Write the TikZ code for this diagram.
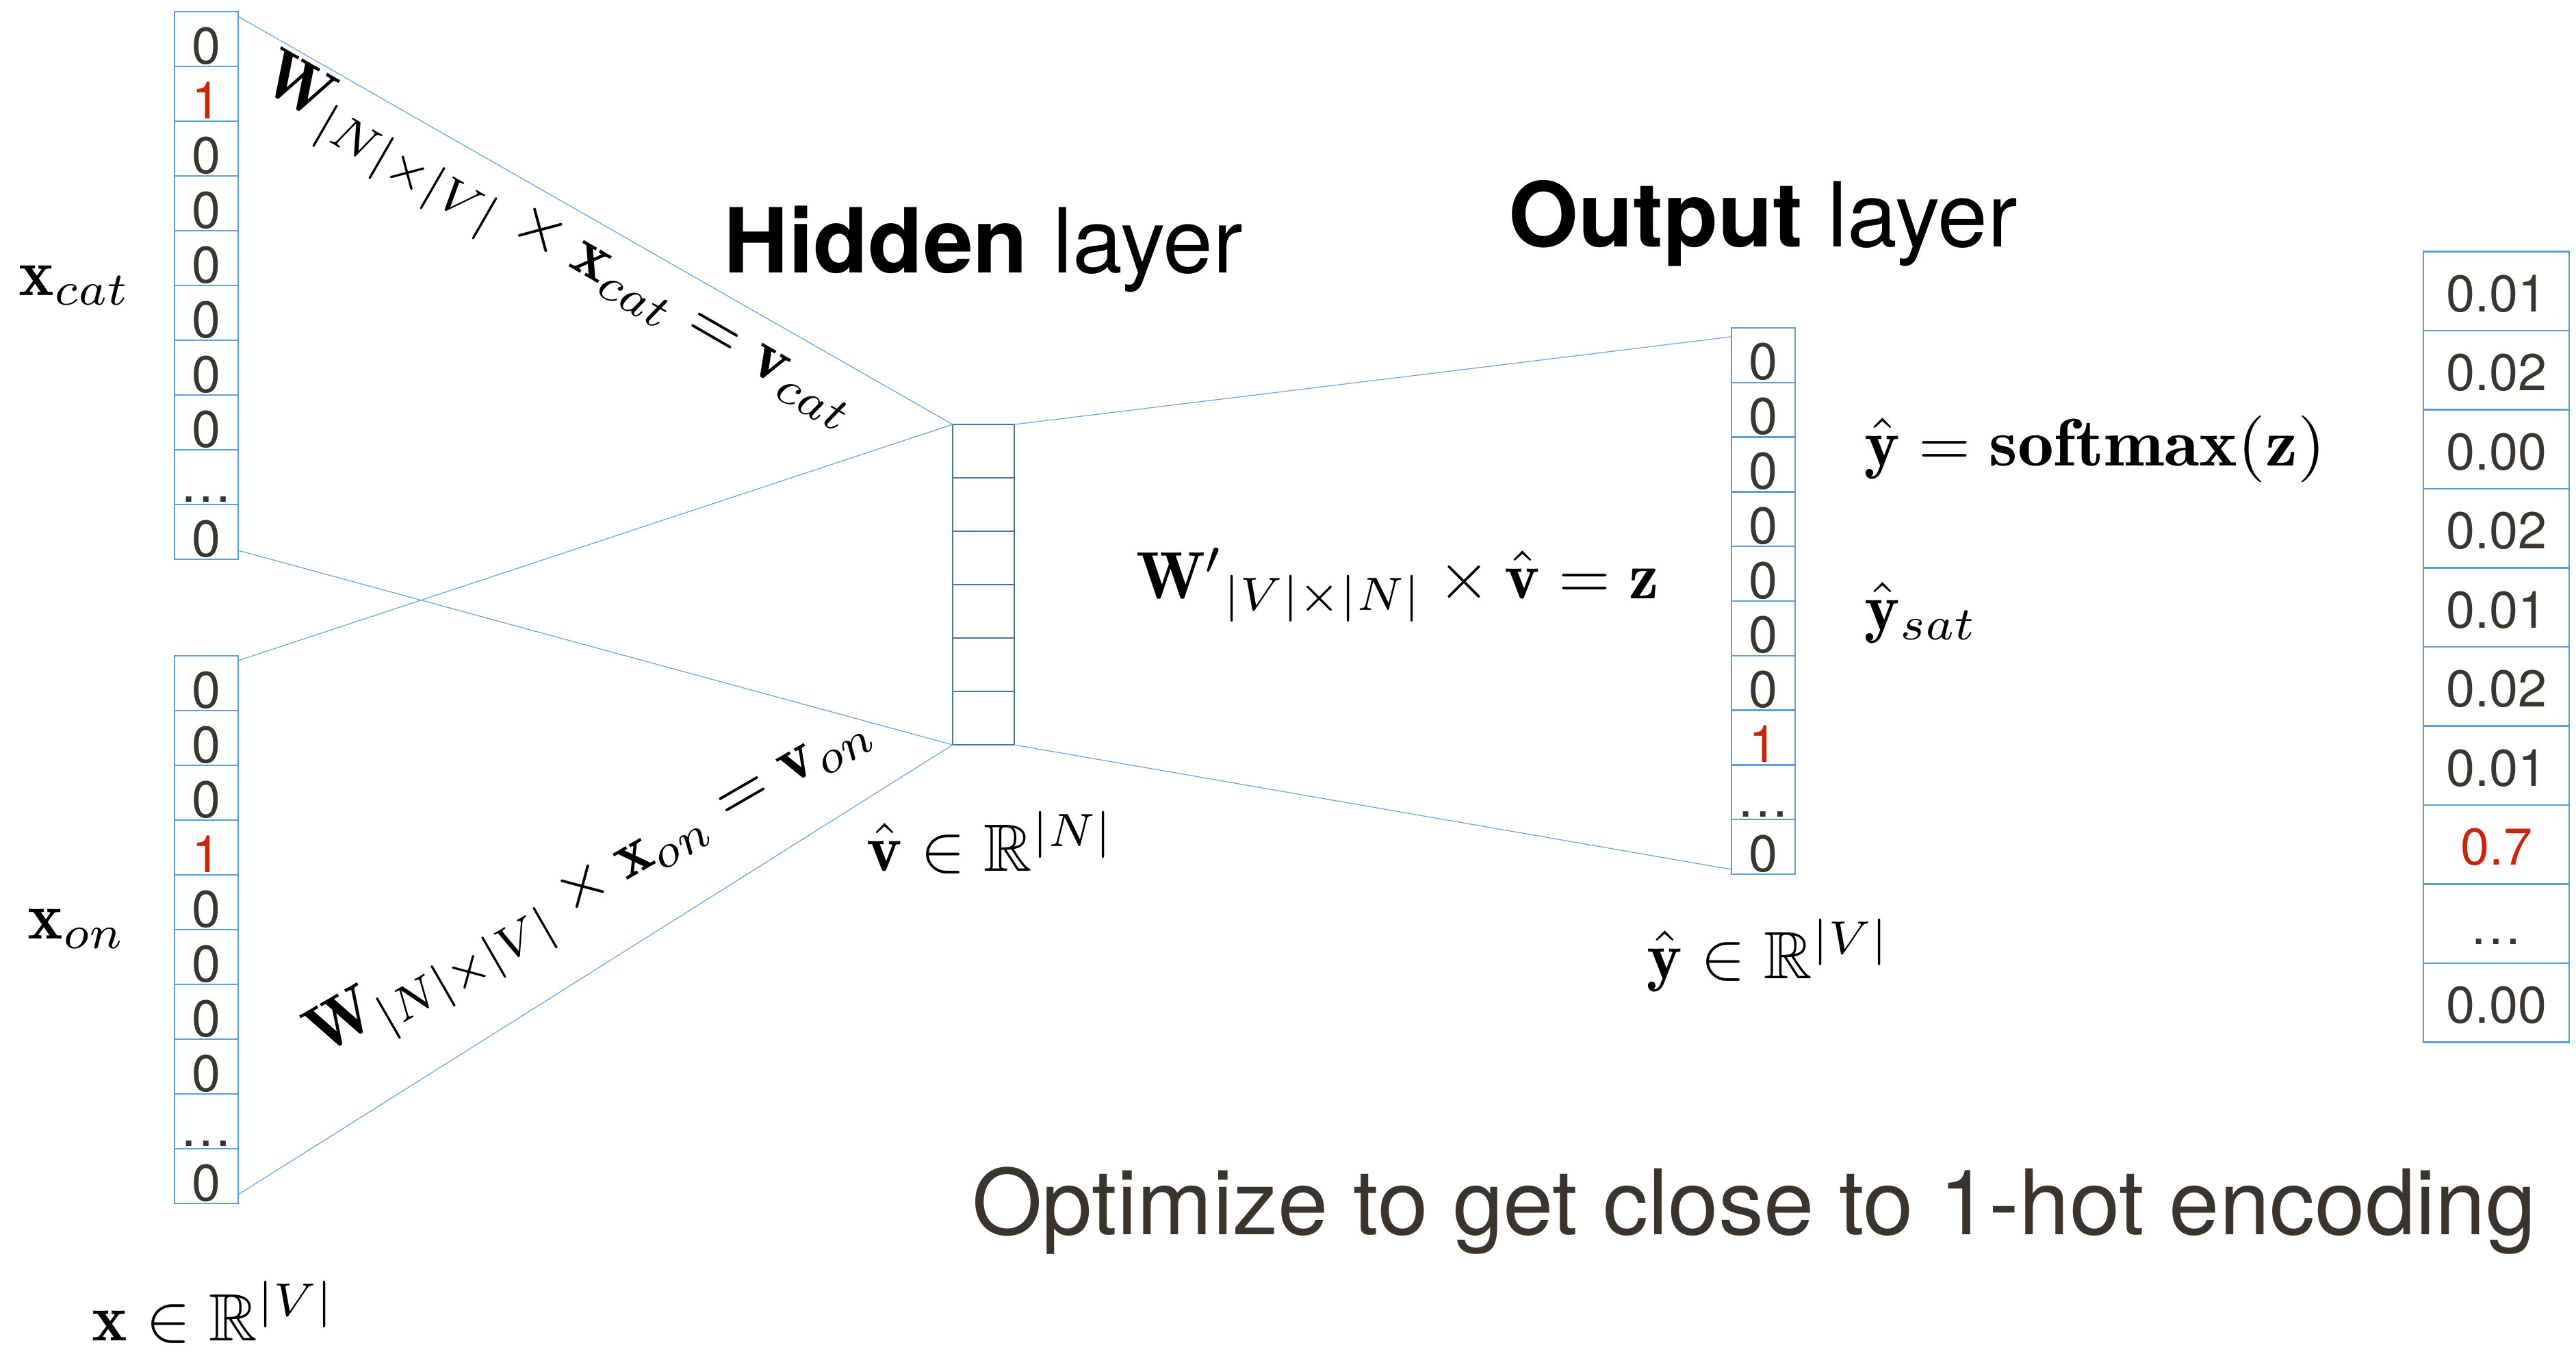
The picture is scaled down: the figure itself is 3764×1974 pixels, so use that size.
\documentclass[tikz,border=0pt]{standalone}
\usepackage{amsmath,amssymb}
\usepackage{graphicx}
\usepackage{fontspec}
\setsansfont{TeX Gyre Heros}
\usetikzlibrary{calc}

\definecolor{cellblue}{HTML}{5E9FD8}
\definecolor{hiddenblue}{HTML}{4A74A0}
\definecolor{wireblue}{HTML}{6AA6DC}
\definecolor{digitgray}{HTML}{3A352F}
\definecolor{hotred}{HTML}{C8250F}
\definecolor{notegray}{HTML}{3A342C}

\newcommand{\hotval}[1]{\textcolor{hotred}{#1}}
\newcommand{\bigmath}[2][2.78]{\scalebox{#1}{$#2$}}

\tikzset{
  vcell/.style={draw=cellblue, line width=0.65pt, minimum width=9.3mm, minimum height=8mm,
    inner sep=0pt, outer sep=0pt, text height=7.2mm, text depth=0pt,
    font=\sffamily\fontsize{21.5}{24}\selectfont, text=digitgray},
  hcell/.style={draw=hiddenblue, line width=0.75pt, minimum width=9mm, minimum height=7.8mm,
    inner sep=0pt, outer sep=0pt},
  pcell/.style={vcell, minimum width=21.3mm, minimum height=11.55mm, text height=6mm},
  wire/.style={draw=wireblue, line width=0.35pt},
  mlabel/.style={inner sep=0pt, anchor=base west},
  title/.style={inner sep=0pt, anchor=base west, font=\sffamily\fontsize{37.3}{41}\selectfont},
}

\begin{document}
\begin{tikzpicture}[x=0.1mm, y=-0.1mm]
\useasboundingbox (0,0) rectangle (3764,1974);

% one-hot input vector for "cat"
\foreach \v [count=\i] in {0,\hotval{1},0,0,0,0,0,0,…,0}
  \node[vcell] (cat\i) at (301.5, {17+80*(\i-0.5)}) {\v};

% one-hot input vector for "on"
\foreach \v [count=\i] in {0,0,0,\hotval{1},0,0,0,0,…,0}
  \node[vcell] (on\i) at (301.5, {958+80*(\i-0.5)}) {\v};

% hidden layer
\foreach \i in {1,...,6}
  \node[hcell] (hid\i) at (1437, {620+78*(\i-0.5)}) {};

% target output vector
\foreach \v [count=\i] in {0,0,0,0,0,0,0,\hotval{1},…,0}
  \node[vcell] (out\i) at (2576.5, {479+79.8*(\i-0.5)}) {\v};

% softmax probabilities
\foreach \v [count=\i] in {0.01,0.02,0.00,0.02,0.01,0.02,0.01,\hotval{0.7},…,0.00}
  \node[pcell] (prob\i) at (3647.5, {367.5+115.5*(\i-0.5)}) {\v};

% projection wires
\draw[wire] ($(cat1.north east)+(0,7)$) -- (hid1.north west);
\draw[wire] ($(cat10.south east)+(0,-13)$) -- (hid6.south west);
\draw[wire] ($(on1.north east)+(0,7)$) -- (hid1.north west);
\draw[wire] ($(on10.south east)+(0,-13)$) -- (hid6.south west);
\draw[wire] (hid1.north east) -- ($(out1.north west)+(0,13)$);
\draw[wire] (hid6.south east) -- ($(out10.south west)+(0,-7)$);

% vector names and spaces
\node[mlabel] (xcat) at (27,431) {\bigmath{\mathbf{x}_{cat}}};
\node[mlabel] (xon) at (40,1371) {\bigmath{\mathbf{x}_{on}}};
\node[mlabel] (xdom) at (134,1958) {\bigmath{\mathbf{x}\in\mathbb{R}^{|V|}}};
\node[mlabel] (vdom) at (1266,1272) {\bigmath{\hat{\mathbf{v}}\in\mathbb{R}^{|N|}}};
\node[mlabel] (ydom) at (2406,1429) {\bigmath{\hat{\mathbf{y}}\in\mathbb{R}^{|V|}}};
\node[mlabel] (soft) at (2724,680)
  {\bigmath{\hat{\mathbf{y}}=\scalebox{1.08}[1]{$\mathbf{softmax}(\mathbf{z})$}}};
\node[mlabel] (ysat) at (2724,920) {\bigmath{\hat{\mathbf{y}}_{sat}}};

% weight products
\node[inner sep=0pt, anchor=base] (zeq) at (2042,874)
  {\bigmath{{\mathbf{W}'}_{|V|\times|N|}\times\hat{\mathbf{v}}=\mathbf{z}}};
\node[inner sep=0pt, rotate=-30] (cateq) at (814,360)
  {\bigmath[2.85]{\mathbf{W}_{|N|\times|V|}\times\mathbf{x}_{cat}=\mathbf{v}_{cat}}};
\node[inner sep=0pt, rotate=30] (oneq) at (866,1296)
  {\bigmath[2.8]{\mathbf{W}_{|N|\times|V|}\times\mathbf{x}_{on}=\mathbf{v}_{on}}};

% titles
\node[title] (hidtitle) at (1057,398) {\textbf{Hidden} layer};
\node[title] (outtitle) at (2204,360) {\textbf{Output} layer};
\node[inner sep=0pt, anchor=base, text=notegray, font=\sffamily\fontsize{37.6}{42}\selectfont]
  (note) at (2563,1803) {Optimize to get close to 1-hot encoding};
\end{tikzpicture}
\end{document}
